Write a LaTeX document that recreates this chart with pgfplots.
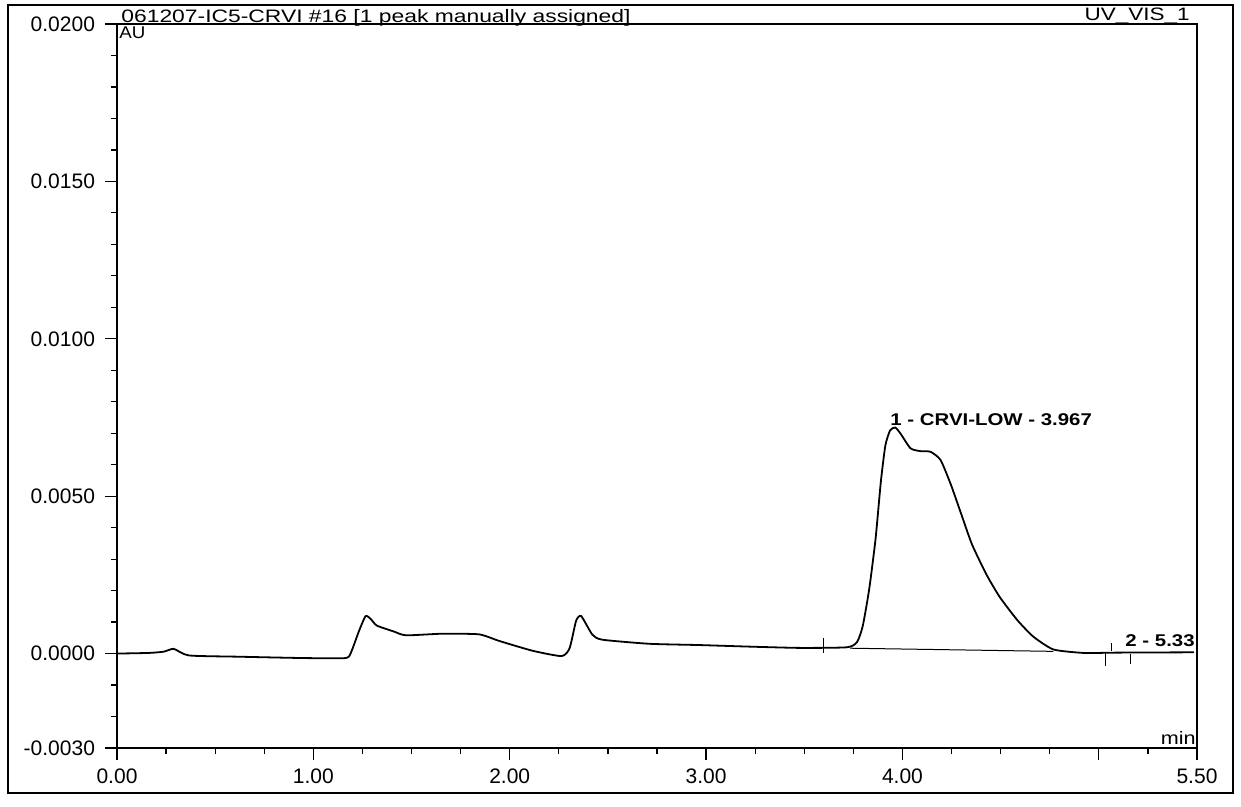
\documentclass[border=0pt]{standalone}
\usepackage{fontspec}
\setmainfont{Liberation Sans}
\usepackage{graphicx}
\usepackage{pgfplots}
\pgfplotsset{compat=1.18}
\begin{document}
\begin{tikzpicture}
\useasboundingbox (-58.5bp,-29.5bp) rectangle (562bp,374bp);
\draw[line width=0.7bp] (-54.5bp,-22.5bp) rectangle (558bp,371.5bp);
\begin{axis}[
  at={(0,0)}, anchor=south west,
  scale only axis, width=540bp, height=362bp,
  xmin=0, xmax=5.5, ymin=-0.003, ymax=0.02,
  axis line style={line width=0.9bp},
  tick align=outside, xtick pos=bottom, ytick pos=left,
  major tick length=6bp, minor tick length=3bp,
  every tick/.style={black, line width=0.6bp},
  xtick={0,1,2,3,4,5,5.5},
  xticklabels={0.00,1.00,2.00,3.00,4.00,,5.50},
  minor xtick={0.25,0.5,...,5.25},
  ytick={-0.003,0,0.005,0.01,0.015,0.02},
  yticklabels={-0.0030,0.0000,0.0050,0.0100,0.0150,0.0200},
  minor ytick={-0.002,-0.001,0.001,0.002,0.003,0.004,0.006,0.007,0.008,0.009,0.011,0.012,0.013,0.014,0.016,0.017,0.018,0.019},
  scaled y ticks=false,
  ticklabel style={font=\fontsize{10.5bp}{12bp}\selectfont},
  xticklabel style={yshift=-1bp},
  yticklabel style={xshift=-1.5bp},
  clip=false,
]
\addplot[black, line width=0.9bp, smooth, tension=0.35] coordinates {
(0.000,0.00000) (0.162,0.00002) (0.238,0.00006) (0.289,0.00015) (0.366,-0.00006)
(0.621,-0.00010) (0.927,-0.00014) (1.132,-0.00015) (1.183,-0.00008) (1.232,0.00071)
(1.266,0.00119) (1.292,0.00110) (1.323,0.00089) (1.410,0.00070) (1.472,0.00058)
(1.656,0.00063) (1.844,0.00061) (1.947,0.00040) (2.116,0.00009) (2.264,-0.00008)
(2.305,0.00017) (2.338,0.00104) (2.364,0.00119) (2.421,0.00060) (2.472,0.00044)
(2.713,0.00031) (2.968,0.00027) (3.223,0.00022) (3.478,0.00018) (3.718,0.00020)
(3.769,0.00037) (3.798,0.00088) (3.831,0.00206) (3.863,0.00364) (3.890,0.00546)
(3.913,0.00661) (3.937,0.00709) (3.963,0.00718) (3.989,0.00700) (4.041,0.00652)
(4.092,0.00643) (4.143,0.00641) (4.194,0.00615) (4.247,0.00536) (4.300,0.00442)
(4.354,0.00347) (4.427,0.00252) (4.495,0.00180) (4.584,0.00107) (4.666,0.00054)
(4.769,0.00013) (4.923,0.00002) (5.096,0.00003) (5.484,0.00004)
};
% integration baseline
\addplot[black, line width=0.5bp] coordinates {(3.734,0.00017) (4.769,0.00007)};
% peak delimiter marks
\addplot[black, line width=0.5bp] coordinates {(3.60,0.00003) (3.60,0.00050)};
\addplot[black, line width=0.5bp] coordinates {(5.065,0.00009) (5.065,0.00035)};
\addplot[black, line width=0.5bp] coordinates {(5.035,-0.00039) (5.035,0.00003)};
\addplot[black, line width=0.5bp] coordinates {(5.163,-0.00034) (5.163,0.00000)};
\node[anchor=base west, inner sep=0, font=\bfseries\fontsize{8.5bp}{10bp}\selectfont] at (axis cs:3.937,0.00724) {\scalebox{1.2}[1]{1 - CRVI-LOW - 3.967}};
\node[anchor=base east, inner sep=0, font=\bfseries\fontsize{8.5bp}{10bp}\selectfont] at (axis cs:5.49,0.00022) {\scalebox{1.2}[1]{2 - 5.33}};
\node[anchor=base west, inner sep=0, xshift=2bp, yshift=0.8bp, font=\fontsize{9bp}{11bp}\selectfont] at (rel axis cs:0,1) {\scalebox{1.27}[1]{061207-IC5-CRVI \#16 [1 peak manually assigned]}};
\node[anchor=north west, inner sep=0, xshift=1bp, yshift=-1.2bp, font=\fontsize{8.5bp}{10bp}\selectfont] at (rel axis cs:0,1) {\scalebox{1.1}[1]{AU}};
\node[anchor=base east, inner sep=0, xshift=-3.5bp, yshift=1.5bp, font=\fontsize{9bp}{11bp}\selectfont] at (rel axis cs:1,1) {\scalebox{1.25}[1]{UV\_VIS\_1}};
\node[anchor=base east, inner sep=0, xshift=-0.5bp, yshift=2bp, font=\fontsize{9bp}{11bp}\selectfont] at (rel axis cs:1,0) {\scalebox{1.2}[1]{min}};
\end{axis}
\end{tikzpicture}
\end{document}
